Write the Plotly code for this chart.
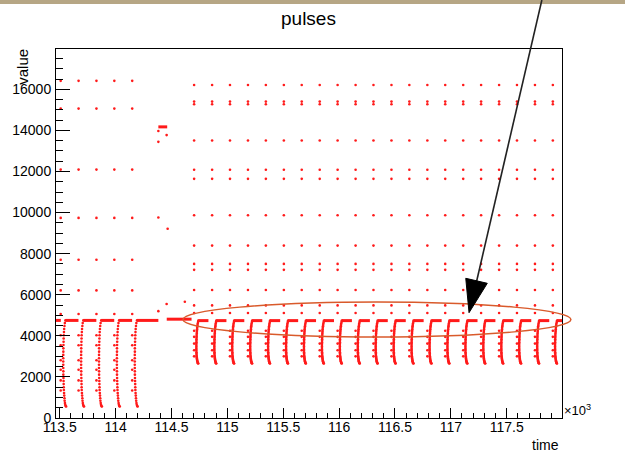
import plotly.graph_objects as go

# Time values are in units of 10^3 (the axis carries a x10^3 multiplier).

# ---- first pulse train: deep pulses falling to ~560 ----
train1_pulse_times = [113.532, 113.692, 113.852, 114.012, 114.172]
train1_shape_dt = [0.0196, 0.0142, 0.0107, 0.0080, 0.0062, 0.0044, 0.0036, 0.0027,
                   0.0018, 0.0009, 0.0009, 0.0, 0.0, 0.0, 0.0, 0.0, 0.0009, 0.0009,
                   0.0018, 0.0027, 0.0036, 0.0044, 0.0053, 0.0071, 0.0089, 0.0107,
                   0.0124, 0.0151, 0.0178, 0.0213, 0.0258]
train1_shape_val = [4750, 4620, 4480, 4330, 4180, 4030, 3870, 3710, 3550, 3390, 3230,
                    3070, 2910, 2750, 2590, 2430, 2270, 2110, 1950, 1800, 1650, 1500,
                    1360, 1220, 1090, 960, 840, 730, 640, 580, 560]
train1_flat_start = [113.467, 113.552, 113.712, 113.872, 114.032, 114.192]
train1_flat_end = [113.510, 113.668, 113.828, 113.988, 114.148, 114.383]
train1_flat_level = 4750
train1_column_times = [113.509, 113.669, 113.829, 113.989, 114.149]
train1_column_vals = [16410, 15060, 12090, 9740, 7700, 6210, 5060,
                      4030, 3540, 2810, 2350, 1830, 1340]

# ---- transition between the two trains ----
plateau_high = [114.383, 114.462, 14170]
plateau_mid = [114.458, 114.680, 4810]
transition_times = [114.383, 114.383, 114.457, 114.383, 114.466, 114.383, 114.457, 114.620]
transition_vals = [13970, 13440, 13770, 9760, 9210, 5200, 5550, 5660]

# ---- second pulse train: shallow pulses falling to ~2650 ----
train2_pulse_times = [114.723, 114.884, 115.044, 115.205, 115.365, 115.526, 115.686,
                      115.847, 116.007, 116.168, 116.328, 116.489, 116.649, 116.810,
                      116.970, 117.131, 117.291, 117.452, 117.612, 117.773, 117.933]
train2_shape_dt = [0.0178, 0.0150, 0.0124, 0.0105, 0.0089, 0.0075, 0.0062, 0.0052,
                   0.0044, 0.0035, 0.0027, 0.0022, 0.0018, 0.0012, 0.0009, 0.0004,
                   0.0, 0.0, 0.0, 0.0, 0.0, 0.0004, 0.0009, 0.0013, 0.0018, 0.0027,
                   0.0036, 0.0049, 0.0062, 0.0075, 0.0089, 0.0105, 0.0124, 0.0145,
                   0.0169]
train2_shape_val = [4740, 4670, 4600, 4530, 4460, 4390, 4320, 4250, 4180, 4110, 4040,
                    3970, 3900, 3830, 3760, 3690, 3620, 3550, 3480, 3410, 3340, 3270,
                    3200, 3135, 3070, 3010, 2950, 2900, 2850, 2800, 2760, 2720, 2690,
                    2665, 2650]
train2_flat_dt = [0.018, 0.108]
train2_flat_level = 4740
train2_column_dt = -0.020
train2_column_vals = [16210, 15400, 15270, 13510, 12080, 11640, 9870, 8390, 7500,
                      7210, 6230, 5480, 5110, 4250, 3950, 3620, 3300, 3000]

# ---------------------------------------------------------------------------
pts_t, pts_v = [], []
for t0 in train1_pulse_times:
    pts_t += [t0 + d for d in train1_shape_dt]
    pts_v += train1_shape_val
for tc in train1_column_times:
    pts_t += [tc] * len(train1_column_vals)
    pts_v += train1_column_vals
pts_t += transition_times
pts_v += transition_vals
for t0 in train2_pulse_times:
    pts_t += [t0 + d for d in train2_shape_dt]
    pts_v += train2_shape_val
    pts_t += [t0 + train2_column_dt] * len(train2_column_vals)
    pts_v += train2_column_vals

seg_t, seg_v = [], []
for s, e in zip(train1_flat_start, train1_flat_end):
    seg_t += [s, e, None]
    seg_v += [train1_flat_level, train1_flat_level, None]
for s, e, lv in (plateau_high, plateau_mid):
    seg_t += [s, e, None]
    seg_v += [lv, lv, None]
for t0 in train2_pulse_times:
    seg_t += [t0 + train2_flat_dt[0], t0 + train2_flat_dt[1], None]
    seg_v += [train2_flat_level, train2_flat_level, None]

RED = "#ff1a1a"
fig = go.Figure()
fig.add_trace(go.Scatter(x=seg_t, y=seg_v, mode="lines",
                         line=dict(color=RED, width=3), hoverinfo="skip",
                         showlegend=False))
fig.add_trace(go.Scatter(x=pts_t, y=pts_v, mode="markers",
                         marker=dict(color=RED, size=2.6, line=dict(width=0)),
                         showlegend=False))

FONT = "Liberation Sans, Arial, Helvetica, sans-serif"
L, R, T, B = 52, 63, 49, 44
W, H = 625, 462
pw, ph = W - L - R, H - T - B


def px(x):
    return (x - L) / pw


def py(y):
    return (H - B - y) / ph


axis_common = dict(showline=True, linecolor="black", linewidth=1, mirror=True,
                   ticks="inside", tickcolor="black", tickwidth=1,
                   showgrid=False, zeroline=False,
                   tickfont=dict(family=FONT, size=14, color="black"))

fig.update_layout(
    width=W, height=H, autosize=False,
    margin=dict(l=L, r=R, t=T, b=B, pad=0),
    paper_bgcolor="white", plot_bgcolor="white",
    font=dict(family=FONT, color="black"),
    xaxis=dict(range=[113.467, 117.995], tick0=113.5, dtick=0.5, ticklen=10,
               ticklabelstandoff=-4,
               minor=dict(ticks="inside", dtick=0.1, ticklen=5, tickcolor="black"),
               **axis_common),
    yaxis=dict(range=[0, 17960], tick0=0, dtick=2000, ticklen=14, tickformat="d",
               ticklabelstandoff=1,
               minor=dict(ticks="inside", dtick=500, ticklen=7, tickcolor="black"),
               **axis_common),
    shapes=[
        # slide border strip along the top edge
        dict(type="rect", xref="paper", yref="paper", x0=px(-5), x1=px(W + 5),
             y0=py(4), y1=py(-5), fillcolor="#b6a685", line=dict(width=0)),
        # highlight around the baseline pulses
        dict(type="circle", xref="paper", yref="paper", x0=px(180), x1=px(571),
             y0=py(337), y1=py(302), line=dict(color="#d95a2b", width=1.5)),
        # pointer arrow
        dict(type="line", xref="paper", yref="paper", x0=px(541.7), y0=py(0),
             x1=px(476), y1=py(281), line=dict(color="#222222", width=1.6)),
        dict(type="path", xref="paper", yref="paper",
             path=f"M {px(465)},{py(278.3)} L {px(486.7)},{py(283.3)} "
                  f"L {px(468.3)},{py(312.7)} Z",
             fillcolor="black", line=dict(color="black", width=1)),
    ],
    annotations=[
        dict(text="pulses", x=px(306), y=py(18), xref="paper", yref="paper",
             showarrow=False, xanchor="center", yanchor="middle",
             font=dict(family=FONT, size=19, color="black")),
        dict(text="value", x=px(17.5), y=py(67), xref="paper", yref="paper",
             showarrow=False, textangle=-90, xanchor="center", yanchor="middle",
             font=dict(family=FONT, size=15, color="black")),
        dict(text="time", x=px(561), y=py(445), xref="paper", yref="paper",
             showarrow=False, xanchor="right", yanchor="middle",
             font=dict(family=FONT, size=14, color="black")),
        dict(text="×10<sup>3</sup>", x=px(562), y=py(410), xref="paper", yref="paper",
             showarrow=False, xanchor="left", yanchor="middle",
             font=dict(family=FONT, size=13, color="black")),
    ],
)

fig.write_html("out.html")
